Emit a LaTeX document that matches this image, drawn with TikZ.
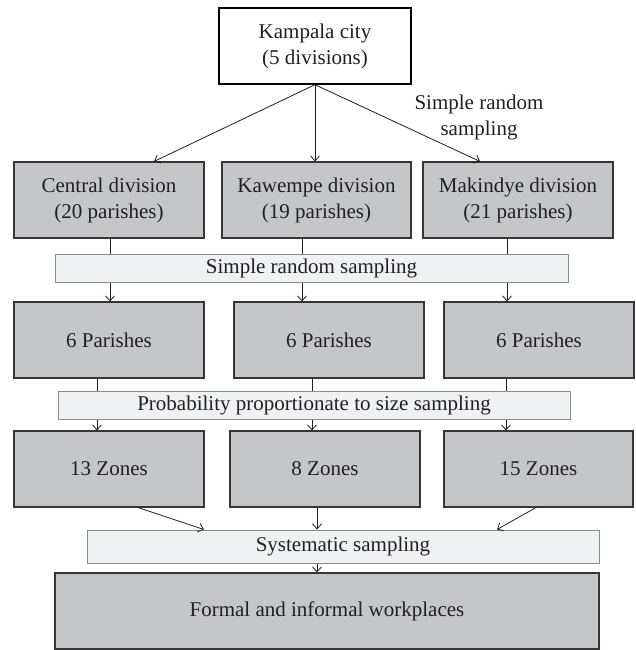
\documentclass[tikz,border=0pt]{standalone}
\usepackage{fontspec}
\setmainfont{Liberation Serif}
\usetikzlibrary{arrows.meta,calc}
\definecolor{boxgray}{HTML}{C5C6C8}
\definecolor{bargray}{HTML}{F0F1F3}
\definecolor{barline}{HTML}{8A8B8D}
\definecolor{ink}{HTML}{231F20}
\begin{document}
\begin{tikzpicture}[x=1pt,y=-1pt,
  every node/.style={font=\fontsize{21}{26}\selectfont, text=ink, align=center, inner sep=0pt},
  topbox/.style={draw=black, line width=1.4pt, fill=white, minimum width=192pt, minimum height=76pt},
  graybox/.style={draw=ink!90, line width=1.1pt, fill=boxgray, minimum height=76pt},
  barbox/.style={draw=barline, line width=1pt, fill=bargray, minimum height=28pt},
  arr/.style={draw=ink, line width=0.8pt, -{Straight Barb[length=5pt,width=9pt]}},
  ln/.style={draw=ink, line width=0.8pt}]
\useasboundingbox (0,0) rectangle (635,650);
% nodes
\node[topbox] (city) at (315,46) {Kampala city\\(5 divisions)};
\node[graybox, minimum width=190pt] (d1) at (109,200) {Central division\\(20 parishes)};
\node[graybox, minimum width=189pt] (d2) at (316.5,200) {Kawempe division\\(19 parishes)};
\node[graybox, minimum width=190pt] (d3) at (518,200) {Makindye division\\(21 parishes)};
\node (srslabel) at (479,117) {Simple random\\sampling};
% coordinates for connector x positions
\coordinate (xa1) at (110,0); \coordinate (xa2) at (302,0); \coordinate (xa3) at (507,0);
\coordinate (xb1) at (97,0); \coordinate (xb2) at (312,0); \coordinate (xb3) at (506,0);
\node[graybox, minimum width=190pt] (p1) at (109,340) {6 Parishes};
\node[graybox, minimum width=190pt] (p2) at (329,340) {6 Parishes};
\node[graybox, minimum width=190pt] (p3) at (539,340) {6 Parishes};
\node[graybox, minimum width=190pt] (z1) at (109,469) {13 Zones};
\node[graybox, minimum width=190pt] (z2) at (325,469) {8 Zones};
\node[graybox, minimum width=189pt] (z3) at (538.5,469) {15 Zones};
\node[graybox, minimum width=544pt] (final) at (327,611) {Formal and informal workplaces};
% connectors (drawn before the bars so the bars cover them)
\draw[arr] (city.south) -- ($(d1.north)+(45,0)$);
\draw[arr] (city.south) -- (d2.north -| city.south);
\draw[arr] (city.south) -- ($(d3.north)+(-38,0)$);
\draw[arr] (d1.south -| xa1) -- (p1.north -| xa1);
\draw[arr] (d2.south -| xa2) -- (p2.north -| xa2);
\draw[arr] (d3.south -| xa3) -- (p3.north -| xa3);
\draw[arr] (p1.south -| xb1) -- (z1.north -| xb1);
\draw[arr] (p2.south -| xb2) -- (z2.north -| xb2);
\draw[arr] (p3.south -| xb3) -- (z3.north -| xb3);
% bars
\node[barbox, minimum width=513pt] (srs) at (311.5,268) {Simple random sampling};
\node[barbox, minimum width=512pt] (pps) at (314,405) {Probability proportionate to size sampling};
\node[barbox, minimum width=512pt, minimum height=33pt] (sys) at (343,546.5) {Systematic sampling};
% zone to systematic
\draw[arr] ($(z1.south)+(29,0)$) -- (sys.north -| 204,0);
\draw[arr] ($(z2.south)+(-8,0)$) -- (sys.north -| 317,0);
\draw[arr] ($(z3.south)+(-2.5,0)$) -- (sys.north -| 497,0);
\draw[arr] (sys.south -| 317,0) -- (final.north -| 317,0);
\end{tikzpicture}
\end{document}
